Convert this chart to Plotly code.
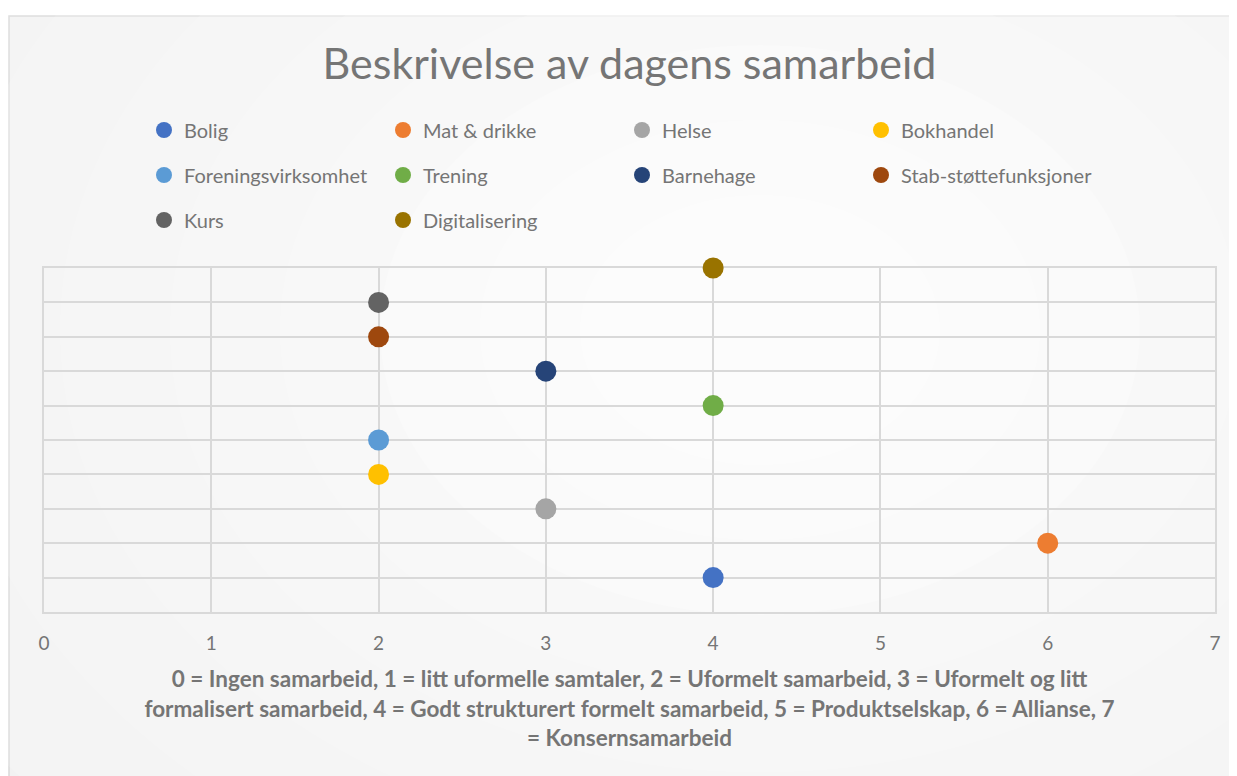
import plotly.graph_objects as go

# ---- data ----
categories = ["Bolig", "Mat & drikke", "Helse", "Bokhandel", "Foreningsvirksomhet",
              "Trening", "Barnehage", "Stab-støttefunksjoner", "Kurs", "Digitalisering"]
x_values = [4, 6, 3, 2, 2, 4, 3, 2, 2, 4]
y_values = [1, 2, 3, 4, 5, 6, 7, 8, 9, 10]
colors = ["#4472C4", "#ED7D31", "#A5A5A5", "#FFC000", "#5B9BD5",
          "#70AD47", "#264478", "#9E480E", "#636363", "#997300"]
legend_rows = ["legend", "legend", "legend", "legend",
               "legend2", "legend2", "legend2", "legend2",
               "legend3", "legend3"]
x_ticks = [0, 1, 2, 3, 4, 5, 6, 7]

title_text = "Beskrivelse av dagens samarbeid"
xaxis_title = ("0 = Ingen samarbeid, 1 = litt uformelle samtaler, 2 = Uformelt samarbeid, 3 = Uformelt og litt<br>"
               "formalisert samarbeid, 4 = Godt strukturert formelt samarbeid, 5 = Produktselskap, 6 = Allianse, 7<br>"
               "= Konsernsamarbeid")

# page has an 8px body margin; work in page pixels and convert
O = 8
W, H = 1237 - O, 776 - O
PL, PR, PT, PB = 44, 1215, 268, 612          # plot area in page pixels
L, R, T, B = PL - O, W - (PR - O), PT - O, H - (PB - O)
PW, PH = PR - PL, PB - PT


def px(x):
    return (x - PL) / PW


def py(y):
    return (PB - y) / PH


FONT = "Lato"
TXT = "#757575"
GRID = "#d9d9d9"

fig = go.Figure()
for name, xv, yv, c, lg in zip(categories, x_values, y_values, colors, legend_rows):
    fig.add_trace(go.Scatter(
        x=[xv], y=[yv], mode="markers", name=name, legend=lg, cliponaxis=False,
        marker=dict(size=21, color=c, line=dict(width=0)),
    ))

shapes = [dict(type="rect", xref="paper", yref="paper", layer="below",
               x0=px(9), x1=px(1260), y0=py(16), y1=py(800),
               fillcolor="#f2f2f2", line=dict(color="#d9d9d9", width=1.5))]
# soft radial glow to mimic the gradient background
cx, cy = 760, 330
for r, op in [(950, 0.15), (820, 0.15), (700, 0.18), (590, 0.2), (480, 0.22),
              (380, 0.25), (280, 0.3), (180, 0.4)]:
    shapes.append(dict(type="circle", xref="paper", yref="paper", layer="below",
                       x0=px(cx - r), x1=px(cx + r), y0=py(cy + r * 0.75), y1=py(cy - r * 0.75),
                       fillcolor="rgba(255,255,255,%s)" % op, line=dict(width=0)))

legend_common = dict(orientation="h", font=dict(family=FONT, size=20, color=TXT),
                     bgcolor="rgba(0,0,0,0)", entrywidth=194, entrywidthmode="pixels",
                     xanchor="left", yanchor="middle", itemclick=False, itemdoubleclick=False)

fig.update_layout(
    width=W, height=H,
    margin=dict(l=L, r=R, t=T, b=B),
    paper_bgcolor="white",
    plot_bgcolor="rgba(0,0,0,0)",
    title=dict(text=title_text, x=0.5, xref="paper", xanchor="center",
               y=1 - (64 - O) / H, yref="container", yanchor="middle",
               font=dict(family=FONT, size=43, color=TXT)),
    shapes=shapes,
    legend=dict(x=px(144), y=py(130), **legend_common),
    legend2=dict(x=px(144), y=py(175), **legend_common),
    legend3=dict(x=px(144), y=py(220), **legend_common),
    xaxis=dict(range=[0, 7], tickvals=x_ticks, showgrid=True, gridcolor=GRID, gridwidth=1.5,
               zeroline=False, showline=True, linecolor=GRID, linewidth=1.5, mirror=True,
               layer="below traces",
               ticks="", ticklabelstandoff=13,
               tickfont=dict(family=FONT, size=19, color=TXT),
               title=dict(text="<b>" + xaxis_title + "</b>", standoff=19,
                          font=dict(family=FONT, size=22.5, color=TXT))),
    yaxis=dict(range=[0, 10], dtick=1, showgrid=True, gridcolor=GRID, gridwidth=1.5,
               zeroline=False, showline=True, linecolor=GRID, linewidth=1.5, mirror=True,
               layer="below traces",
               showticklabels=False, ticks=""),
)

fig.write_html("out.html")
